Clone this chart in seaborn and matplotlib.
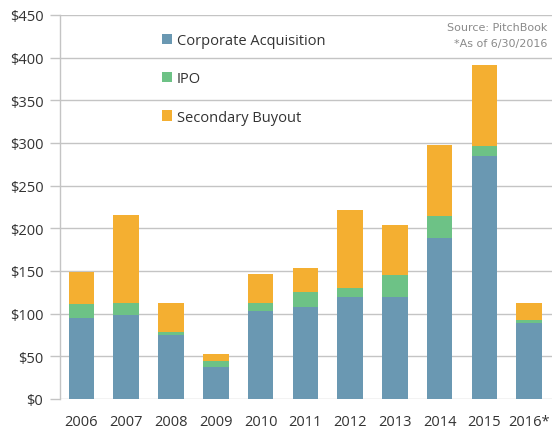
import matplotlib
matplotlib.use("Agg")
import matplotlib.pyplot as plt
from matplotlib.patches import Patch
import numpy as np
import pandas as pd
import seaborn as sns

years = ["2006", "2007", "2008", "2009", "2010", "2011", "2012", "2013", "2014", "2015", "2016*"]
corporate = [95, 98, 75, 38, 103, 108, 120, 120, 189, 285, 89]
ipo = [16, 15, 4, 7, 9, 17, 10, 25, 25, 11, 3]
secondary = [38, 103, 33, 8, 35, 29, 92, 59, 84, 95, 20]
y_ticks = [0, 50, 100, 150, 200, 250, 300, 350, 400, 450]

c_blue = "#6A98B2"
c_green = "#6DC286"
c_orange = "#F4AF31"
grid_c = "#C4C4C4"

sns.set_theme(style="white")
plt.rcParams["font.family"] = ["Open Sans", "DejaVu Sans"]

df = pd.DataFrame({"year": years, "corp": corporate, "ipo": ipo, "sec": secondary})
df["lvl1"] = df["corp"]
df["lvl2"] = df["corp"] + df["ipo"]
df["lvl3"] = df["lvl2"] + df["sec"]

fig = plt.figure(figsize=(5.58, 4.35), dpi=100)
ax = fig.add_axes([60 / 558, 35 / 435, (552 - 60) / 558, (400 - 16) / 435])

w = 0.57
sns.barplot(data=df, x="year", y="lvl3", color=c_orange, width=w, saturation=1, ax=ax, zorder=3)
sns.barplot(data=df, x="year", y="lvl2", color=c_green, width=w, saturation=1, ax=ax, zorder=3)
sns.barplot(data=df, x="year", y="lvl1", color=c_blue, width=w, saturation=1, ax=ax, zorder=3)
for p in ax.patches:
    p.set_linewidth(0)

ax.set_xlim(-0.48, 10.51)
ax.set_ylim(0, 450)
ax.set_yticks(y_ticks)
ax.set_yticklabels([f"${v}" for v in y_ticks])
ax.set_xlabel("")
ax.set_ylabel("")

ax.yaxis.grid(True, color=grid_c, linewidth=1, zorder=0)
ax.xaxis.grid(False)
for s in ["top", "right", "bottom"]:
    ax.spines[s].set_visible(False)
ax.spines["left"].set_color(grid_c)
ax.spines["left"].set_linewidth(1)

ax.tick_params(axis="y", which="both", left=True, length=7, width=1, color=grid_c,
               pad=5, labelsize=10.5, labelcolor="#333333")
ax.tick_params(axis="x", which="both", bottom=False, length=0, pad=11,
               labelsize=10.5, labelcolor="#333333")

handles = [Patch(facecolor=c_blue, edgecolor="none", label="Corporate Acquisition"),
           Patch(facecolor=c_green, edgecolor="none", label="IPO"),
           Patch(facecolor=c_orange, edgecolor="none", label="Secondary Buyout")]
leg = ax.legend(handles=handles, loc="upper left", bbox_to_anchor=(162 / 558, 1 - 34 / 435),
                bbox_transform=fig.transFigure, frameon=False, fontsize=10.5,
                handlelength=0.7, handleheight=0.7, handletextpad=0.3,
                labelspacing=1.6, borderaxespad=0, borderpad=0)
for t in leg.get_texts():
    t.set_color("#333333")

fig.text(547 / 558, 1 - 28 / 435, "Source: PitchBook", ha="right", va="center",
         fontsize=8, color="#8A8A8A", family="DejaVu Sans")
fig.text(547 / 558, 1 - 44 / 435, "*As of 6/30/2016", ha="right", va="center",
         fontsize=8, color="#8A8A8A", family="DejaVu Sans")

fig.savefig("out.png", dpi=100)
